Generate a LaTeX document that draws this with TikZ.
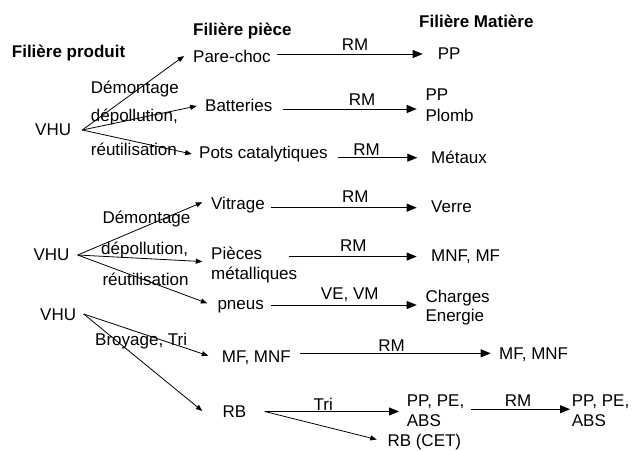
\documentclass[tikz,border=0pt]{standalone}
\usepackage{fontspec}
\setmainfont{Liberation Sans}
\usetikzlibrary{arrows.meta}
\newcommand{\fs}{\fontsize{17}{20}\selectfont}
\begin{document}
\begin{tikzpicture}[x=1pt,y=-1pt,
  txt/.style={anchor=base west, inner sep=0pt, font=\fs, text height=12.4pt, text depth=3.6pt},
  ml/.style={anchor=base west, inner sep=0pt, font=\fs, align=left},
  head/.style={anchor=base west, inner sep=0pt, font=\fs\bfseries},
  lbl/.style={inner sep=0pt, font=\fs},
  harrow/.style={-{Triangle[length=10pt,width=8pt]}, line width=0.8pt},
  darrow/.style={-{Triangle[length=6.5pt,width=5pt]}, line width=0.8pt}]
\useasboundingbox (0,0) rectangle (632,450);
% headings
\node[head] (hprod) at (11.7,57) {Filière produit};
\node[head] (hpiece) at (193,35) {Filière pièce};
\node[head] (hmat) at (419,27.3) {Filière Matière};
% group 1
\node[txt] (v1) at (35,135.7) {VHU};
\node[txt] (t1a) at (90.7,93.3) {Démontage};
\node[txt] (t1b) at (90.7,121.7) {dépollution,};
\node[txt] (t1c) at (90.7,155.7) {réutilisation};
\node[txt] (pc) at (193,62) {Pare-choc};
\node[txt] (bat) at (205,111.7) {Batteries};
\node[txt] (pots) at (199,158.3) {Pots catalytiques};
\node[txt] (m1) at (437.7,59.3) {PP};
\node[ml, font=\fontsize{17}{21.7}\selectfont] (m2) at (425.3,121.7) {PP\\Plomb};
\node[txt] (m3) at (431,163.3) {Métaux};
\coordinate (o1) at ([shift={(11,-1.3)}]v1.east);
\draw[darrow] (o1) -- ([shift={(-9,-1.6)}]pc.west);
\draw[darrow] (o1) -- ([shift={(-8.3,-1.3)}]bat.west);
\draw[darrow] (o1) -- ([shift={(-7.3,0.1)}]pots.west);
\draw[harrow] ([shift={(6.5,-3.6)}]pc.east) -- ([shift={(-15,-3.6)}]pc.east -| m1.west) node[lbl, above=3.3pt, pos=.535] {RM};
\draw[harrow] ([shift={(10.9,1.7)}]bat.east) -- ([shift={(-8.6,1.7)}]bat.east -| m2.west) node[lbl, above=3pt, pos=.59] {RM};
\draw[harrow] ([shift={(10.2,3.8)}]pots.east) -- ([shift={(-13.7,3.8)}]pots.east -| m3.west) node[lbl, above=1.7pt, pos=.36] {RM};
% group 2
\node[txt] (v2) at (33.3,260.7) {VHU};
\node[txt] (t2a) at (102.3,223.3) {Démontage};
\node[txt] (t2b) at (101,254) {dépollution,};
\node[txt] (t2c) at (102.3,285) {réutilisation};
\node[txt] (vit) at (211,209) {Vitrage};
\node[ml, font=\fontsize{17}{20.3}\selectfont] (pie) at (211,279.3) {Pièces\\métalliques};
\node[txt] (pne) at (217.3,309.3) {pneus};
\node[txt] (m4) at (431,212.3) {Verre};
\node[txt] (m5) at (431,261.7) {MNF, MF};
\node[ml, font=\fontsize{17}{18.7}\selectfont] (m6) at (425.3,321) {Charges\\Energie};
\coordinate (o2) at ([shift={(8.1,-1.3)}]v2.east);
\draw[darrow] (o2) -- ([shift={(-8.7,-2.3)}]vit.west);
\draw[darrow] (o2) -- ([shift={(-8.7,-3.1)}]pie.west);
\draw[darrow] (o2) -- ([shift={(-10,-1.6)}]pne.west);
\draw[harrow] ([shift={(5.8,3.1)}]vit.east) -- ([shift={(-14.3,3.1)}]vit.east -| m4.west) node[lbl, above=4.4pt, pos=.58] {RM};
\draw[harrow] ([shift={(-8.7,-8.1)}]pie.east) -- ([shift={(-14.3,-8.1)}]pie.east -| m5.west) node[lbl, above=4.4pt, pos=.505] {RM};
\draw[harrow] ([shift={(7.1,0.1)}]pne.east) -- ([shift={(-8.6,0.1)}]pne.east -| m6.west) node[lbl, above=2.7pt, pos=.54] {VE, VM};
% group 3
\node[txt] (v3) at (40,320) {VHU};
\node[txt] (t3) at (95,345) {Broyage, Tri};
\node[txt] (mf) at (221.7,362.7) {MF, MNF};
\node[txt] (rb) at (222.3,417.3) {RB};
\node[txt] (m7) at (499,359.3) {MF, MNF};
\node[ml] (m8) at (406.7,426) {PP, PE,\\ABS};
\node[ml] (m9) at (571.7,426) {PP, PE,\\ABS};
\node[txt] (rbcet) at (387.3,446.5) {RB (CET)};
\coordinate (o3) at ([shift={(7.4,-1.6)}]v3.east);
\draw[darrow] (o3) -- ([shift={(-13.4,-2.6)}]mf.west);
\draw[darrow] (o3) -- ([shift={(-20,-1.9)}]rb.west);
\draw[harrow] ([shift={(9.2,-5)}]mf.east) -- ([shift={(-8.3,-5)}]mf.east -| m7.west) node[lbl, above=1.6pt, pos=.479] {RM};
\draw[harrow] ([shift={(18.4,-1.4)}]rb.east) -- ([shift={(-7.7,-1.4)}]rb.east -| m8.west) node[lbl, above=0.3pt, pos=.436] {Tri};
\draw[darrow] ([shift={(18.4,-1.4)}]rb.east) -- ([shift={(-10.6,-2.6)}]rbcet.west);
\draw[harrow] ([shift={(6.1,-1)}]m8.east) -- ([shift={(-1.7,-1)}]m8.east -| m9.west) node[lbl, above=2.3pt, pos=.477] {RM};
\end{tikzpicture}
\end{document}
